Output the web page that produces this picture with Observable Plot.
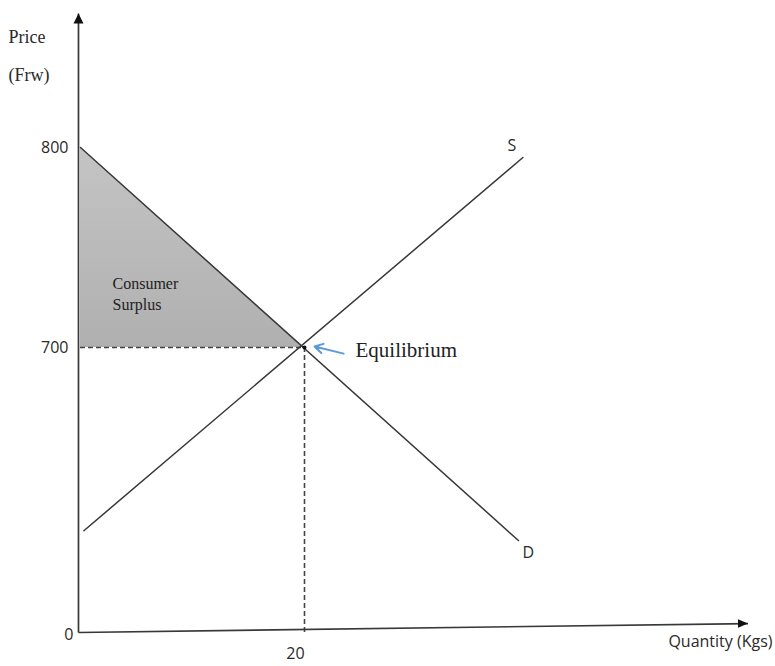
<!DOCTYPE html>
<html>
<head>
<meta charset="utf-8">
<script src="https://cdn.jsdelivr.net/npm/d3@7"></script>
<script src="https://cdn.jsdelivr.net/npm/@observablehq/plot@0.6"></script>
<style>
  html, body { margin: 0; padding: 0; background: #fff; }
  #chart svg { display: block; }
</style>
</head>
<body>
<div id="chart"></div>
<script>
// Supply and demand (quantity in Kgs, price in Frw)
const supplyQ = [0.3, 39.5];
const supplyP = [250, 795];
const demandQ = [0, 39.1];
const demandP = [800, 226];
const equilibriumQ = 20;
const equilibriumP = 700;
const choke = 800;               // demand intercept on the price axis
const priceTicks = [800, 700];
const quantityTicks = [20];
const axisTopP = 867;            // end of the price axis
const axisEndQ = 59.6;           // end of the quantity axis
const axisEndP = 22;             // quantity axis drifts slightly upward

const supply = supplyQ.map((q, i) => ({q, p: supplyP[i]}));
const demand = demandQ.map((q, i) => ({q, p: demandP[i]}));
const surplus = [{q: 0, p: choke}, {q: equilibriumQ, p: equilibriumP}];

// The price axis is not to scale: the stretch above the equilibrium price
// is drawn much taller than the stretch below it.
const below = 285, above = 200;
const priceAxis = p => p <= equilibriumP
  ? p * below / equilibriumP
  : below + (p - equilibriumP) * above / (choke - equilibriumP);

const ink = "#383838";
const serif = "'Liberation Serif', 'DejaVu Serif', serif";
const sans = "'Open Sans', 'Liberation Sans', sans-serif";

// filled arrowheads whose tip sits on the anchor point
const headUp = {draw(ctx, size) {
  const r = Math.sqrt(size / Math.PI);
  ctx.moveTo(0, 0); ctx.lineTo(-r / 2, r); ctx.lineTo(r / 2, r); ctx.closePath();
}};
const headRight = {draw(ctx, size) {
  const r = Math.sqrt(size / Math.PI);
  ctx.moveTo(0, 0); ctx.lineTo(-r, -r * 0.42); ctx.lineTo(-r, r * 0.42); ctx.closePath();
}};

// gradient used for the consumer surplus area
const gradientDefs = () => {
  const svg = d3.create("svg:defs");
  const g = svg.append("linearGradient").attr("id", "cs-fill")
    .attr("x1", 0).attr("y1", 0).attr("x2", 0).attr("y2", 1);
  g.append("stop").attr("offset", "0%").attr("stop-color", "#c4c4c4");
  g.append("stop").attr("offset", "100%").attr("stop-color", "#b0b0b0");
  return svg.node();
};

const guide = {stroke: "#444", strokeWidth: 1.6, strokeDasharray: "5,3"};

const chart = Plot.plot({
  width: 775,
  height: 666,
  marginTop: 0, marginRight: 0, marginBottom: 0, marginLeft: 0,
  x: {type: "linear", domain: [0, 20], range: [80, 304], axis: null},
  y: {type: "linear", transform: priceAxis, domain: [0, below], range: [632, 347], axis: null},
  style: {background: "#fff", overflow: "visible"},
  marks: [
    gradientDefs,
    // consumer surplus
    Plot.areaY(surplus, {x: "q", y1: () => equilibriumP, y2: "p", fill: "url(#cs-fill)"}),
    // equilibrium guides
    Plot.ruleY([equilibriumP], {x1: 0, x2: equilibriumQ, ...guide}),
    Plot.ruleX([equilibriumQ], {y1: 0, y2: equilibriumP, ...guide}),
    // curves
    Plot.line(supply, {x: "q", y: "p", stroke: ink, strokeWidth: 1.5}),
    Plot.line(demand, {x: "q", y: "p", stroke: ink, strokeWidth: 1.5}),
    // axes
    Plot.link([0], {x1: () => -0.18, y1: () => 0, x2: () => -0.18, y2: () => axisTopP, stroke: ink, strokeWidth: 1.7}),
    Plot.link([0], {x1: () => -0.18, y1: () => 0, x2: () => axisEndQ, y2: () => axisEndP, stroke: ink, strokeWidth: 1.7}),
    Plot.dot([0], {x: () => -0.18, y: () => axisTopP, r: 10, symbol: headUp, fill: "#111", stroke: null}),
    Plot.dot([0], {x: () => axisEndQ, y: () => axisEndP, r: 10, symbol: headRight, fill: "#111", stroke: null}),
    Plot.dot([0], {x: () => equilibriumQ, y: () => equilibriumP, r: 2, fill: "#111", stroke: null}),
    // tick labels
    Plot.text(priceTicks, {x: () => 0, y: d => d, text: d => String(d), dx: -12, textAnchor: "end", fontFamily: sans, fontSize: 16, fill: "#2a2a2a"}),
    Plot.text([0], {x: () => 0, y: d => d, text: d => String(d), dx: -7, dy: 2, textAnchor: "end", fontFamily: sans, fontSize: 16, fill: "#2a2a2a"}),
    Plot.text(quantityTicks, {x: d => d, y: () => 0, text: d => String(d), dx: -9, dy: 21, fontFamily: sans, fontSize: 16, fill: "#2a2a2a"}),
    // axis titles
    Plot.text(["Price"], {frameAnchor: "top-left", dx: 8, dy: 30, textAnchor: "start", fontFamily: serif, fontSize: 18, fill: "#2a2a2a"}),
    Plot.text(["(Frw)"], {frameAnchor: "top-left", dx: 8, dy: 68, textAnchor: "start", fontFamily: serif, fontSize: 18, fill: "#2a2a2a"}),
    Plot.text(["Quantity (Kgs)"], {frameAnchor: "top-left", dx: 772, dy: 635, textAnchor: "end", fontFamily: sans, fontSize: 16, fill: "#2a2a2a"}),
    // curve labels
    Plot.text([supply[1]], {x: "q", y: "p", text: () => "S", dx: -11, dy: -12, fontFamily: sans, fontSize: 16, fill: "#2a2a2a"}),
    Plot.text([demand[1]], {x: "q", y: "p", text: () => "D", dx: 10, dy: 12, fontFamily: sans, fontSize: 16, fill: "#2a2a2a"}),
    // annotations
    Plot.text(["Consumer\nSurplus"], {x: () => 0, y: () => equilibriumP, dx: 32, dy: -55, textAnchor: "start", lineHeight: 1.35, fontFamily: serif, fontSize: 16, fill: "#222"}),
    Plot.arrow([0], {x1: () => 23.5, y1: () => 685, x2: () => 20.9, y2: () => 700.5, stroke: "#5b9bd5", strokeWidth: 2, headLength: 7}),
    Plot.text(["Equilibrium"], {x: () => equilibriumQ, y: () => equilibriumP, dx: 51, dy: 3, textAnchor: "start", fontFamily: serif, fontSize: 21, fill: "#222"})
  ]
});

document.getElementById("chart").appendChild(chart);
</script>
</body>
</html>
